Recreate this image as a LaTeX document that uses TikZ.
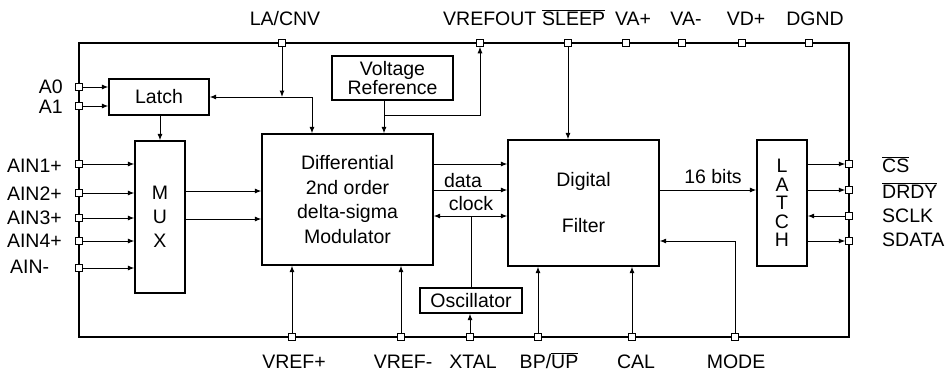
\documentclass[tikz,border=0pt]{standalone}
\usepackage{fontspec}
\setmainfont{Liberation Sans}
\usetikzlibrary{arrows.meta}
\newcommand{\ovl}[1]{$\overline{\mbox{#1}}$}
\begin{document}
\begin{tikzpicture}[x=1pt,y=-1pt,
  font=\fontsize{19.5}{20}\selectfont,
  box/.style={draw, line width=1.2pt, inner sep=0pt, align=center},
  pin/.style={draw, fill=white, line width=1pt, minimum size=6.5pt, inner sep=0pt, rectangle},
  conn/.style={line width=1pt},
  arr/.style={conn, -{Latex[length=6.5pt,width=5pt]}},
  darr/.style={conn, {Latex[length=6.5pt,width=5pt]}-{Latex[length=6.5pt,width=5pt]}},
  lbl/.style={inner sep=0pt, anchor=base}]
\useasboundingbox (0,0) rectangle (950,373);
% frame
\draw[line width=2.8pt] (79,43) rectangle (849,337);
% blocks
\node[box, minimum width=100pt, minimum height=36pt] (latch) at (159,97) {Latch};
\node[box, minimum width=50pt, minimum height=152pt, font=\fontsize{19.5}{24}\selectfont] (mux) at (160,217) {M\\U\\X};
\node[box, minimum width=171pt, minimum height=131pt, font=\fontsize{19.5}{24.5}\selectfont] (mod) at (347.5,199.5) {Differential\\2nd order\\delta-sigma\\Modulator};
\node[box, minimum width=121pt, minimum height=44pt, font=\fontsize{19.5}{18}\selectfont] (vr) at (392.5,78) {Voltage\\Reference};
\node[box, minimum width=151pt, minimum height=126pt, font=\fontsize{19.5}{46}\selectfont] (filt) at (583.5,203) {Digital\\Filter};
\node[box, minimum width=50pt, minimum height=126pt, font=\fontsize{19.5}{18.5}\selectfont] (latchR) at (782,203) {L\\A\\T\\C\\H};
\node[box, minimum width=102pt, minimum height=25pt] (osc) at (471,300.5) {Oscillator};
% pins top
\node[pin] (pLA) at (282,43) {};
\node[pin] (pVRO) at (480,43) {};
\node[pin] (pSLP) at (568,43) {};
\node[pin] (pVAp) at (626,43) {};
\node[pin] (pVAm) at (682,43) {};
\node[pin] (pVDp) at (742,43) {};
\node[pin] (pDG) at (809,43) {};
% pins left
\node[pin] (pA0) at (79,87) {};
\node[pin] (pA1) at (79,106) {};
\node[pin] (pI1) at (79,164) {};
\node[pin] (pI2) at (79,193) {};
\node[pin] (pI3) at (79,218) {};
\node[pin] (pI4) at (79,241) {};
\node[pin] (pIm) at (79,268) {};
% pins right
\node[pin] (pCS) at (849,164) {};
\node[pin] (pDR) at (849,190) {};
\node[pin] (pSC) at (849,216) {};
\node[pin] (pSD) at (849,241) {};
% pins bottom
\node[pin] (pVRp) at (292,337) {};
\node[pin] (pVRm) at (401,337) {};
\node[pin] (pXT) at (470,337) {};
\node[pin] (pBP) at (538,337) {};
\node[pin] (pCAL) at (632,337) {};
\node[pin] (pMD) at (735,337) {};
% labels top
\node[lbl] (tLA) at (285,25) {LA/CNV};
\node[lbl, anchor=base west] (tVRO) at (443,25) {VREFOUT};
\node[lbl, anchor=base west] (tSLP) at (542,25) {\ovl{SLEEP}};
\node[lbl] (tVAp) at (633,25) {VA+};
\node[lbl] (tVAm) at (686,25) {VA-};
\node[lbl] (tVDp) at (746,25) {VD+};
\node[lbl] (tDG) at (815,25) {DGND};
% labels left
\node[lbl, anchor=base east] (tA0) at (63,93) {A0};
\node[lbl, anchor=base east] (tA1) at (63,113) {A1};
\node[lbl, anchor=base east] (tI1) at (62,172) {AIN1+};
\node[lbl, anchor=base east] (tI2) at (62,200) {AIN2+};
\node[lbl, anchor=base east] (tI3) at (62,224) {AIN3+};
\node[lbl, anchor=base east] (tI4) at (62,247) {AIN4+};
\node[lbl, anchor=base west] (tIm) at (10,273) {AIN-};
% labels right
\node[lbl, anchor=base west] (tCS) at (882,172) {\ovl{CS}};
\node[lbl, anchor=base west] (tDR) at (882,198) {\ovl{DRDY}};
\node[lbl, anchor=base west] (tSC) at (882,222) {SCLK};
\node[lbl, anchor=base west] (tSD) at (882,246) {SDATA};
% labels bottom
\node[lbl] (tVRp) at (294,368) {VREF+};
\node[lbl] (tVRm) at (403,368) {VREF-};
\node[lbl] (tXT) at (473,368) {XTAL};
\node[lbl] (tBP) at (549,368) {BP/\ovl{UP}};
\node[lbl] (tCAL) at (636,368) {CAL};
\node[lbl] (tMD) at (736,368) {MODE};
% inner labels
\node[lbl] (tdata) at (463,187) {data};
\node[lbl] (tclk) at (471,210) {clock};
\node[lbl] (t16) at (713,183) {16 bits};
% coordinates
\coordinate (jLA) at (312,97);
\coordinate (jLAin) at (282,97);
\coordinate (jVR) at (384,115);
\coordinate (jVRO) at (480,115);
\coordinate (jOsc) at (471,216);
\coordinate (jMD) at (735,241);
% connectors
\draw[arr] (pA0.east) -- (latch.west |- pA0);
\draw[arr] (pA1.east) -- (latch.west |- pA1);
\draw[arr] (latch.south -| 160,0) -- (mux.north);
\foreach \p in {pI1,pI2,pI3,pI4,pIm} \draw[arr] (\p.east) -- (mux.west |- \p);
\draw[arr] (mux.east |- 0,191) -- (mod.west |- 0,191);
\draw[arr] (mux.east |- 0,219) -- (mod.west |- 0,219);
\draw[arr] (pLA.south) -- (jLAin);
\draw[darr] (latch.east) -- (jLA) -- (mod.north -| jLA);
\draw[arr] (vr.south -| jVR) -- (mod.north -| jVR);
\draw[arr] (jVR) -- (jVRO) -- (pVRO.south);
\draw[arr] (pSLP.south) -- (filt.north -| pSLP);
\draw[arr] (mod.east |- 0,164) -- (filt.west |- 0,164);
\draw[arr] (mod.east |- 0,190) -- (filt.west |- 0,190);
\draw[darr] (mod.east |- jOsc) -- (filt.west |- jOsc);
\draw[conn] (osc.north -| jOsc) -- (jOsc);
\draw[arr] (pXT.north) -- (osc.south -| pXT);
\draw[arr] (pVRp.north) -- (mod.south -| pVRp);
\draw[arr] (pVRm.north) -- (mod.south -| pVRm);
\draw[arr] (pBP.north) -- (filt.south -| pBP);
\draw[arr] (pCAL.north) -- (filt.south -| pCAL);
\draw[arr] (pMD.north) -- (jMD) -- (filt.east |- jMD);
\draw[arr] (filt.east |- 0,190) -- (latchR.west |- 0,190);
\draw[arr] (latchR.east |- pCS) -- (pCS.west);
\draw[arr] (latchR.east |- pDR) -- (pDR.west);
\draw[arr] (pSC.west) -- (latchR.east |- pSC);
\draw[arr] (latchR.east |- pSD) -- (pSD.west);
\end{tikzpicture}
\end{document}
